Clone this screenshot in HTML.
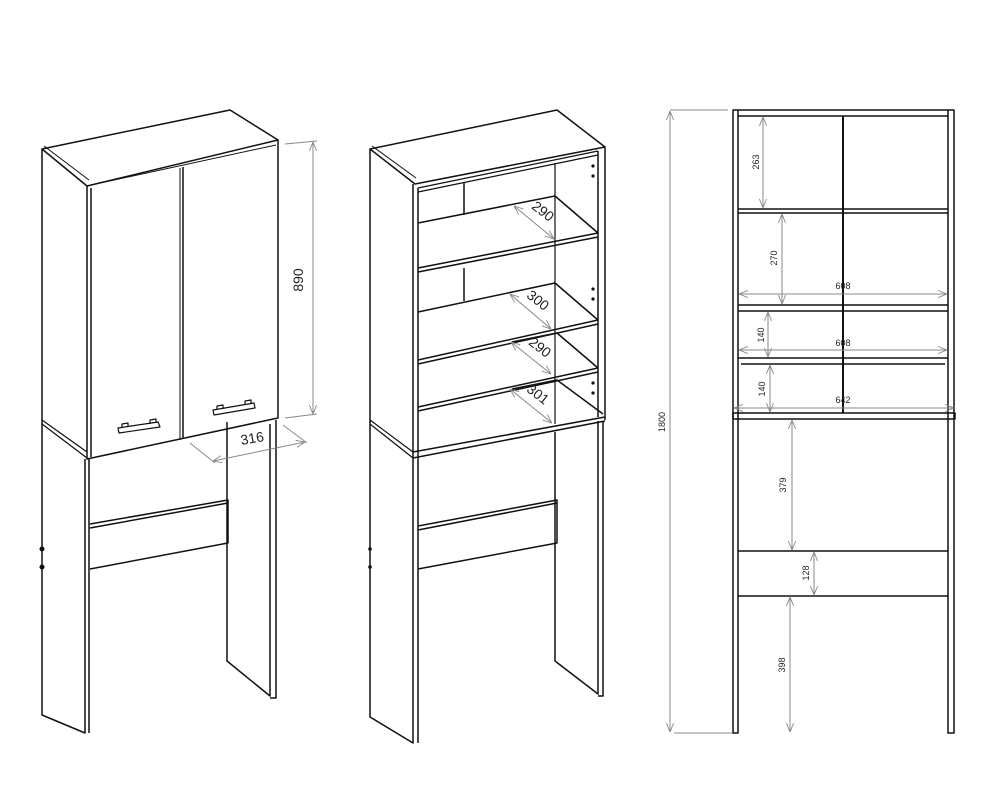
<!DOCTYPE html>
<html><head><meta charset="utf-8"><style>
html,body{margin:0;padding:0;background:#fff}
svg{display:block}
text{font-family:"Liberation Sans",sans-serif;fill:#222}
</style></head><body>
<svg width="1000" height="806" viewBox="0 0 1000 806" xmlns="http://www.w3.org/2000/svg">
<defs>
<marker id="a" viewBox="0 0 10 10" refX="10" refY="5" markerWidth="9" markerHeight="9" orient="auto-start-reverse" markerUnits="userSpaceOnUse">
<path d="M0,1 L10,5 L0,9" fill="none" stroke="#888" stroke-width="1"/></marker>
</defs>
<g fill="none" stroke="#111" stroke-width="1.5" stroke-linejoin="round">
<!-- FIGURE 1 -->
<path d="M42,149 L230,110 L278,140 L87,186 Z"/>
<path d="M44,146 L89,180" stroke-width="1"/>
<path d="M42,149 L42,715 L85,733 L85,459"/>
<path d="M89,459 L89,733"/>
<path d="M87,186 L87,459 L278,418 L278,140"/>
<path d="M91,188 L91,457"/>
<path d="M91,185 L276,145" stroke-width="1"/>
<path d="M183,167 L183,439"/>
<path d="M180,168 L180,440" stroke-width="1"/>
<path d="M42,420 L87,452 M42,424 L87,458" stroke-width="1.2"/>
<path d="M227,422 L227,661 L270,696 L270,424 M276,420 L276,698 L270,698"/>
<path d="M90,524 L228,500 L228,543 L90,569 M90,528 L228,503"/>
<path d="M118,428 L158,422 L160,427 L119,433 Z M122,428 L122,424 L128,423 L128,427 M150,424 L150,420 L156,419 L156,423" stroke-width="1.2"/>
<path d="M213,410 L254,403 L255,408 L214,415 Z M217,410 L217,406 L223,405 L223,409 M245,405 L245,401 L251,400 L251,404" stroke-width="1.2"/>
<circle cx="42" cy="549" r="1.8" fill="#111"/><circle cx="42" cy="567" r="1.8" fill="#111"/>
<!-- FIGURE 2 -->
<path d="M370,149 L557,110 L605,147 L415,184 Z"/>
<path d="M372,146 L416,178" stroke-width="1"/>
<path d="M370,149 L370,717 L413,743 L413,184"/>
<path d="M418,188 L418,743"/>
<path d="M418,188 L598,151 M418,192 L598,155" stroke-width="1.2"/>
<path d="M598,151 L598,417 M605,147 L605,420"/>
<path d="M555,163 L555,424" stroke-width="1.2"/>
<path d="M464,182 L464,215 M464,268 L464,301"/>
<!-- shelves -->
<path d="M418,223 L555,196 L598,233 M418,268 L598,233 M418,272 L598,237"/>
<path d="M418,312 L555,283 L598,320 M418,360 L598,320 M418,364 L598,324"/>
<path d="M512,342 L557,333 L598,368 M418,407 L598,368 M418,411 L598,372"/>
<path d="M512,389 L557,380 L603,414 M413,452 L605,417 M413,458 L605,421"/>
<path d="M370,420 L413,452 M370,424 L413,458" stroke-width="1.2"/>
<path d="M555,432 L555,661 L598,694 L598,421 M603,421 L603,696 L598,696"/>
<path d="M418,526 L557,500 L557,543 L418,569 M418,530 L557,503"/>
<g fill="#111" stroke="none">
<circle cx="593" cy="166" r="1.6"/><circle cx="593" cy="176" r="1.6"/>
<circle cx="593" cy="289" r="1.6"/><circle cx="593" cy="299" r="1.6"/>
<circle cx="593" cy="383" r="1.6"/><circle cx="593" cy="393" r="1.6"/>
<circle cx="370" cy="549" r="1.8"/><circle cx="370" cy="567" r="1.8"/>
</g>
<!-- FIGURE 3 -->
<rect x="733" y="110" width="5" height="623"/>
<rect x="948" y="110" width="6" height="623"/>
<path d="M738,110 L948,110 M738,116 L948,116"/>
<path d="M738,209 L948,209 M738,213 L948,213"/>
<path d="M738,305 L948,305 M738,311 L948,311"/>
<path d="M738,358 L948,358 M741,364 L945,364"/>
<rect x="733" y="413" width="222" height="6"/>
<path d="M843,116 L843,413" stroke-width="2"/>
<path d="M738,551 L948,551 M738,596 L948,596"/>
</g>
<!-- dimensions -->
<g fill="none" stroke="#888" stroke-width="1">
<path d="M285,144 L317,141 M285,418 L317,414"/>
<path d="M313,142 L313,414" marker-start="url(#a)" marker-end="url(#a)"/>
<path d="M190,443 L215,463 M283,425 L307,443"/>
<path d="M213,461 L305,442" marker-start="url(#a)" marker-end="url(#a)"/>
<path d="M514,206 L554,239" marker-start="url(#a)" marker-end="url(#a)"/>
<path d="M510,294 L551,329" marker-start="url(#a)" marker-end="url(#a)"/>
<path d="M511,342 L551,374" marker-start="url(#a)" marker-end="url(#a)"/>
<path d="M510,389 L552,423" marker-start="url(#a)" marker-end="url(#a)"/>
<path d="M670,110 L728,110 M674,733 L732,733"/>
<path d="M670,111 L670,732" marker-start="url(#a)" marker-end="url(#a)"/>
<path d="M763,117 L763,208" marker-start="url(#a)" marker-end="url(#a)"/>
<path d="M782,214 L782,304" marker-start="url(#a)" marker-end="url(#a)"/>
<path d="M739,294 L947,294" marker-start="url(#a)" marker-end="url(#a)"/>
<path d="M768,312 L768,357" marker-start="url(#a)" marker-end="url(#a)"/>
<path d="M739,350 L947,350" marker-start="url(#a)" marker-end="url(#a)"/>
<path d="M770,365 L770,412" marker-start="url(#a)" marker-end="url(#a)"/>
<path d="M734,408 L954,408" marker-start="url(#a)" marker-end="url(#a)"/>
<path d="M792,420 L792,550" marker-start="url(#a)" marker-end="url(#a)"/>
<path d="M814,552 L814,595" marker-start="url(#a)" marker-end="url(#a)"/>
<path d="M790,597 L790,732" marker-start="url(#a)" marker-end="url(#a)"/>
</g>
<g font-size="14">
<text transform="translate(303,280) rotate(-90)" text-anchor="middle">890</text>
<text transform="translate(253,443) rotate(-10)" text-anchor="middle">316</text>
<text transform="translate(540,215) rotate(38)" text-anchor="middle">290</text>
<text transform="translate(535,304) rotate(38)" text-anchor="middle">300</text>
<text transform="translate(537,351) rotate(38)" text-anchor="middle">290</text>
<text transform="translate(535,398) rotate(38)" text-anchor="middle">301</text>
</g>
<g font-size="9">
<text transform="translate(665,422) rotate(-90)" text-anchor="middle">1800</text>
<text transform="translate(759,162) rotate(-90)" text-anchor="middle">263</text>
<text transform="translate(777,258) rotate(-90)" text-anchor="middle">270</text>
<text x="843" y="289" text-anchor="middle">608</text>
<text transform="translate(764,335) rotate(-90)" text-anchor="middle">140</text>
<text x="843" y="346" text-anchor="middle">608</text>
<text transform="translate(765,389) rotate(-90)" text-anchor="middle">140</text>
<text x="843" y="403" text-anchor="middle">642</text>
<text transform="translate(786,485) rotate(-90)" text-anchor="middle">379</text>
<text transform="translate(809,573) rotate(-90)" text-anchor="middle">128</text>
<text transform="translate(785,665) rotate(-90)" text-anchor="middle">398</text>
</g>
</svg>
</body></html>
